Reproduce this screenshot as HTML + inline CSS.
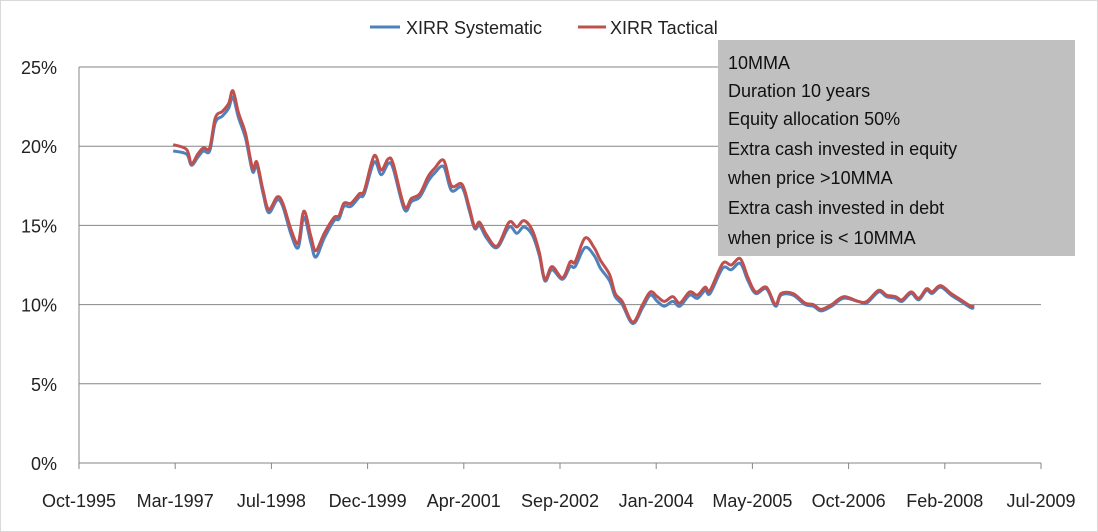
<!DOCTYPE html>
<html><head><meta charset="utf-8"><style>
body{margin:0;background:#fff;}
svg{display:block;font-family:"Liberation Sans",sans-serif;}
</style></head><body>
<svg id="chart" width="1098" height="532" viewBox="0 0 1098 532">
<rect x="0.5" y="0.5" width="1097" height="531" fill="#fff" stroke="#d9d9d9"/>
<g id="grid"></g><g id="axes"></g><g id="series"></g>
<g>
<line x1="370" y1="27" x2="400" y2="27" stroke="#4f81bd" stroke-width="3"/>
<text x="406" y="34" font-size="18" fill="#222">XIRR Systematic</text>
<line x1="578" y1="27" x2="606" y2="27" stroke="#c0504d" stroke-width="3"/>
<text x="610" y="34" font-size="18" fill="#222">XIRR Tactical</text>
</g>
<g>
<rect x="718" y="40" width="357" height="216" fill="#c0c0c0"/>
<g font-size="18" fill="#111">
<text x="728" y="69">10MMA</text>
<text x="728" y="97">Duration 10 years</text>
<text x="728" y="125">Equity allocation 50%</text>
<text x="728" y="155">Extra cash invested in equity</text>
<text x="728" y="184">when price &gt;10MMA</text>
<text x="728" y="214">Extra cash invested in debt</text>
<text x="728" y="244">when price is &lt; 10MMA</text>
</g></g>
</svg>
<script>
const dates=[1997.09,1997.28,1997.35,1997.44,1997.52,1997.61,1997.69,1997.79,1997.88,1997.94,
1998.02,1998.12,1998.22,1998.28,1998.37,1998.45,1998.57,1998.65,1998.77,1998.87,
1998.95,1999.05,1999.12,1999.24,1999.38,1999.45,1999.52,1999.62,1999.74,1999.81,
1999.95,2000.05,2000.15,2000.22,2000.38,2000.48,2000.60,2000.72,2000.81,2000.94,
2001.05,2001.20,2001.30,2001.38,2001.45,2001.55,2001.70,2001.87,2001.98,2002.08,
2002.20,2002.30,2002.38,2002.48,2002.63,2002.74,2002.81,2002.95,2003.08,2003.17,
2003.30,2003.38,2003.48,2003.63,2003.77,2003.88,2003.98,2004.08,2004.20,2004.30,
2004.44,2004.55,2004.66,2004.73,2004.91,2005.03,2005.16,2005.27,2005.38,2005.53,
2005.66,2005.74,2005.91,2006.08,2006.20,2006.31,2006.46,2006.63,2006.84,2006.96,
2007.13,2007.24,2007.37,2007.46,2007.59,2007.70,2007.81,2007.89,2008.01,2008.16,
2008.30,2008.44,2008.49];
const tactical=[20.1,19.8,18.9,19.5,19.9,19.9,21.8,22.2,22.7,23.5,
22.1,20.8,18.6,19.0,17.2,16.0,16.8,16.4,14.7,13.9,
15.9,14.3,13.4,14.5,15.5,15.6,16.4,16.4,17.0,17.2,
19.4,18.5,19.2,18.9,16.2,16.7,17.0,18.1,18.6,19.1,
17.5,17.6,16.2,14.9,15.2,14.4,13.7,15.2,14.9,15.3,
14.7,13.3,11.6,12.4,11.7,12.7,12.7,14.2,13.6,12.8,
11.9,10.7,10.2,8.9,10.0,10.8,10.5,10.2,10.5,10.1,
10.8,10.6,11.1,10.9,12.6,12.5,12.9,11.7,10.8,11.1,
10.0,10.7,10.7,10.1,10.0,9.7,10.0,10.5,10.2,10.2,
10.9,10.6,10.5,10.3,10.8,10.4,11.0,10.8,11.2,10.7,
10.3,9.9,9.9];
const systematic=[19.7,19.5,18.8,19.3,19.7,19.7,21.5,21.9,22.4,23.1,
21.8,20.5,18.4,18.8,17.0,15.8,16.6,16.2,14.4,13.6,
15.5,13.9,13.0,14.2,15.3,15.4,16.2,16.2,16.8,17.0,
19.0,18.2,18.9,18.6,16.0,16.5,16.8,17.8,18.3,18.7,
17.2,17.4,16.0,14.8,15.0,14.2,13.6,14.9,14.5,14.9,
14.4,13.1,11.5,12.2,11.6,12.4,12.4,13.6,13.1,12.3,
11.5,10.5,10.0,8.8,9.8,10.6,10.2,9.9,10.2,9.9,
10.6,10.4,10.9,10.7,12.3,12.2,12.6,11.5,10.7,11.0,
9.9,10.6,10.6,10.0,9.9,9.6,9.9,10.4,10.2,10.1,
10.8,10.5,10.4,10.2,10.7,10.3,10.9,10.7,11.1,10.6,
10.2,9.8,9.8];
const yTicks=[0,5,10,15,20,25];
const xTickStart=1995.75;
const xTickStepDays=500;
const xTickLabels=["Oct-1995","Mar-1997","Jul-1998","Dec-1999","Apr-2001","Sep-2002","Jan-2004","May-2005","Oct-2006","Feb-2008","Jul-2009"];
const X0=79,X1=1041,Y0=463,Y1=67;
const xEnd=xTickStart+(xTickLabels.length-1)*xTickStepDays/365.25;
const xS=d=>X0+(d-xTickStart)/(xEnd-xTickStart)*(X1-X0);
const yS=v=>Y0-v/25*(Y0-Y1);
const NS="http://www.w3.org/2000/svg";
function mk(tag,parent,attrs){const e=document.createElementNS(NS,tag);for(const k in attrs)e.setAttribute(k,attrs[k]);parent.appendChild(e);return e;}
const grid=document.getElementById('grid'),axes=document.getElementById('axes'),ser=document.getElementById('series');
yTicks.forEach(t=>{
  const y=yS(t);
  if(t>0){const l=mk('line',grid,{x1:X0,x2:X1,y1:y,y2:y,stroke:'#868686','stroke-width':1});
  
  }
  const tx=mk('text',axes,{x:57,y:y+7,'text-anchor':'end','font-size':18,fill:'#222'});
  tx.textContent=t+'%';
  
  
});
const ya=mk('line',axes,{x1:X0,x2:X0,y1:Y1,y2:Y0,stroke:'#868686'});


const xa=mk('line',axes,{x1:X0,x2:X1,y1:Y0,y2:Y0,stroke:'#868686'});


xTickLabels.forEach((lab,i)=>{
  const x=xS(xTickStart+i*xTickStepDays/365.25);
  const tk=mk('line',axes,{x1:x,x2:x,y1:Y0,y2:Y0+6,stroke:'#868686'});
  
  
  const tx=mk('text',axes,{x:x,y:507,'text-anchor':'middle','font-size':18,fill:'#222'});
  tx.textContent=lab;
  
  
});
function path(vals){
  const p=dates.map((d,i)=>[xS(d),yS(vals[i])]);
  let s='M'+p[0][0]+','+p[0][1];
  for(let i=0;i<p.length-1;i++){
    const p0=p[i-1]||p[i],p1=p[i],p2=p[i+1],p3=p[i+2]||p2;
    s+=' C'+(p1[0]+(p2[0]-p0[0])/6)+','+(p1[1]+(p2[1]-p0[1])/6)+' '+(p2[0]-(p3[0]-p1[0])/6)+','+(p2[1]-(p3[1]-p1[1])/6)+' '+p2[0]+','+p2[1];
  }
  return s;
}
const ls=mk('path',ser,{d:path(systematic),fill:'none',stroke:'#4f81bd','stroke-width':3,'stroke-linejoin':'round'});


const lt=mk('path',ser,{d:path(tactical),fill:'none',stroke:'#c0504d','stroke-width':3,'stroke-linejoin':'round'});


</script>
</body></html>
